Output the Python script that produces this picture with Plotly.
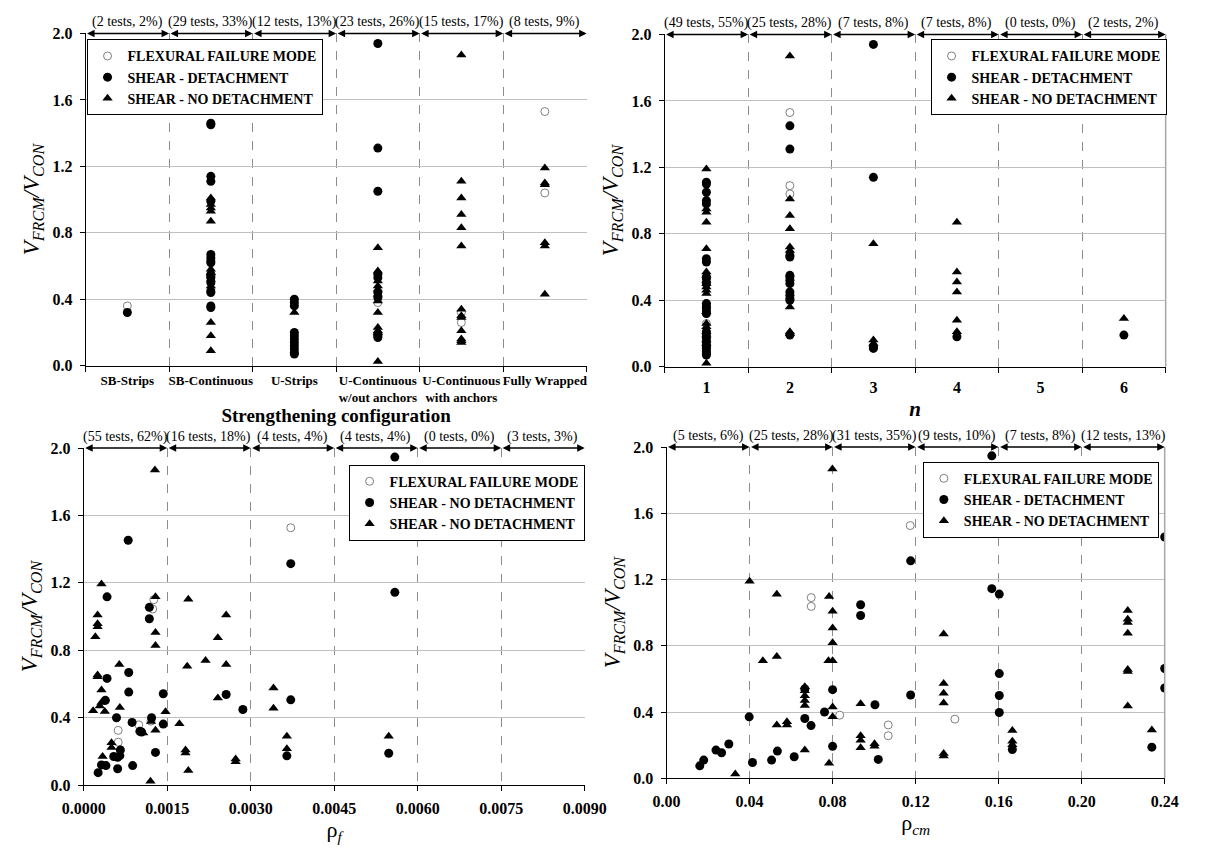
import plotly.graph_objects as go

W, H = 1205, 850
SERIF = "Liberation Serif, Times New Roman, serif"

# ---------------- DATA ----------------
# Panel 1: strengthening configuration
cfg_categories = ["SB-Strips", "SB-Continuous", "U-Strips",
                  "U-Continuous<br>w/out anchors", "U-Continuous<br>with anchors", "Fully Wrapped"]
cfg_counts = ["(2 tests, 2%)", "(29 tests, 33%)", "(12 tests, 13%)",
              "(23 tests, 26%)", "(15 tests, 17%)", "(8 tests, 9%)"]
cfg_flex = [("SB-Strips", [0.36]),
            ("U-Continuous<br>w/out anchors", [0.38]),
            ("U-Continuous<br>with anchors", [0.32, 0.26]),
            ("Fully Wrapped", [1.53, 1.04])]
cfg_det = [("SB-Strips", [0.32]),
           ("SB-Continuous", [1.46, 1.45, 1.14, 1.11, 0.99, 0.67, 0.65, 0.63, 0.62, 0.55, 0.54,
                              0.53, 0.50, 0.45, 0.44, 0.36, 0.35]),
           ("U-Strips", [0.40, 0.38, 0.36, 0.20, 0.18, 0.16, 0.14, 0.12, 0.10, 0.08, 0.07]),
           ("U-Continuous<br>w/out anchors", [1.94, 1.31, 1.05, 0.55, 0.53, 0.44, 0.41, 0.19, 0.18, 0.17])]
cfg_nodet = [("SB-Continuous", [1.01, 0.97, 0.95, 0.93, 0.87, 0.58, 0.56, 0.52, 0.48, 0.26, 0.18, 0.09]),
             ("U-Strips", [0.32]),
             ("U-Continuous<br>w/out anchors", [0.71, 0.57, 0.51, 0.48, 0.46, 0.43, 0.39, 0.32,
                                                0.23, 0.21, 0.20, 0.025]),
             ("U-Continuous<br>with anchors", [1.87, 1.11, 1.01, 0.91, 0.83, 0.72, 0.34, 0.30,
                                               0.29, 0.21, 0.16, 0.15, 0.14]),
             ("Fully Wrapped", [1.19, 1.10, 1.09, 0.74, 0.72, 0.43])]

# Panel 2: number of layers n
n_categories = ["1", "2", "3", "4", "5", "6"]
n_counts = ["(49 tests, 55%)", "(25 tests, 28%)", "(7 tests, 8%)",
            "(7 tests, 8%)", "(0 tests, 0%)", "(2 tests, 2%)"]
n_flex = [(1, [0.38, 0.36, 0.32, 0.26]), (2, [1.53, 1.09, 1.04])]
n_det = [(1, [1.11, 1.10, 1.05, 1.00, 0.98, 0.65, 0.63, 0.54, 0.53, 0.50, 0.38, 0.36, 0.35,
              0.33, 0.32, 0.21, 0.19, 0.17, 0.15, 0.13, 0.12, 0.11, 0.09, 0.08, 0.07]),
         (2, [1.45, 1.31, 0.67, 0.66, 0.55, 0.54, 0.52, 0.50, 0.45, 0.43, 0.41, 0.40, 0.19]),
         (3, [1.94, 1.14, 0.12, 0.11]),
         (4, [0.18]),
         (6, [0.19])]
n_nodet = [(1, [1.19, 0.95, 0.93, 0.87, 0.71, 0.57, 0.55, 0.52, 0.50, 0.48, 0.46, 0.44, 0.33,
                0.26, 0.24, 0.21, 0.19, 0.16, 0.14, 0.02]),
           (2, [1.87, 1.01, 0.91, 0.83, 0.72, 0.70, 0.36, 0.21, 0.20]),
           (3, [0.74, 0.16, 0.14]),
           (4, [0.87, 0.57, 0.51, 0.45, 0.28, 0.21]),
           (6, [0.29])]

# Panel 3: rho_f
rhof_ticks = [0.0, 0.0015, 0.0030, 0.0045, 0.0060, 0.0075, 0.0090]
rhof_counts = ["(55 tests, 62%)", "(16 tests, 18%)", "(4 tests, 4%)",
               "(4 tests, 4%)", "(0 tests, 0%)", "(3 tests, 3%)"]
rhof_flex_x = [0.00126, 0.00124, 0.00372, 0.00099, 0.00062, 0.00062, 0.00121]
rhof_flex_y = [1.10, 1.045, 1.527, 0.358, 0.325, 0.255, 0.38]
rhof_det_x = [0.00042, 0.00118, 0.00118, 0.00081, 0.00042, 0.00081, 0.00143, 0.00039, 0.00256,
              0.00286, 0.00059, 0.00087, 0.00122, 0.00101, 0.00104, 0.00143, 0.00066, 0.00054,
              0.00061, 0.00065, 0.00032, 0.00040, 0.00061, 0.00088, 0.00026, 0.00129, 0.00080,
              0.00372, 0.00559, 0.00559, 0.00372, 0.00365, 0.00548]
rhof_det_y = [1.117, 1.055, 0.987, 0.668, 0.633, 0.552, 0.542, 0.503, 0.538,
              0.449, 0.400, 0.372, 0.400, 0.319, 0.315, 0.362, 0.209, 0.170,
              0.165, 0.175, 0.120, 0.116, 0.097, 0.116, 0.074, 0.194, 1.453,
              1.314, 1.946, 1.144, 0.506, 0.174, 0.189]
rhof_nodet_x = [0.00032, 0.00129, 0.00188, 0.00256, 0.00025, 0.00025, 0.00025, 0.00021, 0.00129,
                0.00129, 0.00241, 0.00064, 0.00025, 0.00025, 0.00186, 0.00219, 0.00256, 0.00032,
                0.00032, 0.00029, 0.00017, 0.00038, 0.00065, 0.00241, 0.00147, 0.00121, 0.00107,
                0.00129, 0.00172, 0.00050, 0.00050, 0.00034, 0.00183, 0.00183, 0.00188, 0.00120,
                0.00273, 0.00273, 0.00128, 0.00341, 0.00341, 0.00365, 0.00365, 0.00548]
rhof_nodet_y = [1.194, 1.117, 1.103, 1.010, 1.010, 0.958, 0.939, 0.880, 0.906,
                0.828, 0.875, 0.716, 0.654, 0.643, 0.706, 0.739, 0.716, 0.565,
                0.490, 0.470, 0.441, 0.437, 0.460, 0.517, 0.435, 0.377, 0.310,
                0.325, 0.364, 0.252, 0.223, 0.170, 0.209, 0.190, 0.087, 0.023,
                0.155, 0.139, 1.870, 0.576, 0.456, 0.290, 0.216, 0.290]

# Panel 4: rho_cm
rhocm_ticks = [0.00, 0.04, 0.08, 0.12, 0.16, 0.20, 0.24]
rhocm_counts = ["(5 tests, 6%)", "(25 tests, 28%)", "(31 tests, 35%)",
                "(9 tests, 10%)", "(7 tests, 8%)", "(12 tests, 13%)"]
rhocm_flex_x = [0.0697, 0.0697, 0.0834, 0.1068, 0.1068, 0.1174, 0.1389]
rhocm_flex_y = [1.091, 1.038, 0.381, 0.322, 0.257, 1.526, 0.357]
rhocm_det_x = [0.0935, 0.0935, 0.0666, 0.0800, 0.0761, 0.1004, 0.0398, 0.0666, 0.0696, 0.0300,
               0.0238, 0.0265, 0.0179, 0.0160, 0.0414, 0.0506, 0.0534, 0.0615, 0.0800, 0.1020,
               0.1176, 0.1567, 0.1567, 0.1603, 0.1176, 0.1603, 0.1603, 0.1603, 0.1666, 0.2338,
               0.2400, 0.2400, 0.2400]
rhocm_det_y = [1.048, 0.983, 0.539, 0.535, 0.400, 0.444, 0.371, 0.361, 0.318, 0.207,
               0.170, 0.154, 0.110, 0.075, 0.095, 0.110, 0.164, 0.130, 0.193, 0.114,
               1.313, 1.947, 1.145, 1.112, 0.503, 0.632, 0.500, 0.397, 0.174, 0.188,
               1.457, 0.663, 0.545]
rhocm_nodet_x = [0.0400, 0.0531, 0.0783, 0.0800, 0.0800, 0.0800, 0.0800, 0.0780, 0.0464, 0.0531,
                 0.0666, 0.0666, 0.0666, 0.0666, 0.0666, 0.0800, 0.0800, 0.0935, 0.0531, 0.0580,
                 0.0580, 0.0935, 0.0935, 0.0935, 0.1002, 0.1002, 0.0331, 0.0666, 0.0783, 0.0799,
                 0.1335, 0.1335, 0.1335, 0.1335, 0.1335, 0.1335, 0.1666, 0.1666, 0.1666, 0.2222,
                 0.2222, 0.2222, 0.2222, 0.2222, 0.2222, 0.2222, 0.2338]
rhocm_nodet_y = [1.190, 1.111, 1.097, 1.008, 0.908, 0.819, 0.710, 0.710, 0.710, 0.736,
                 0.553, 0.529, 0.499, 0.470, 0.440, 0.430, 0.371, 0.450, 0.322, 0.341,
                 0.322, 0.257, 0.229, 0.184, 0.209, 0.193, 0.026, 0.170, 0.091, 1.868,
                 0.871, 0.573, 0.513, 0.454, 0.150, 0.134, 0.288, 0.223, 0.203, 1.013,
                 0.960, 0.940, 0.875, 0.657, 0.644, 0.436, 0.292]

# ---------------- FIGURE ----------------
def flatten(groups, as_str=False):
    xs, ys = [], []
    for cat, vals in groups:
        for v in vals:
            xs.append(str(cat) if as_str else cat)
            ys.append(v)
    return xs, ys

STYLE = {
    "flex": dict(symbol="circle", size=8, color="white", line=dict(color="#7f7f7f", width=1)),
    "det": dict(symbol="circle", size=9, color="black", line=dict(width=0)),
    "nodet": dict(symbol="triangle-up", size=9, color="black", line=dict(width=0)),
}

fig = go.Figure()

def add(x, y, kind, name, ax_id, legend):
    xa = "x" if ax_id == 1 else f"x{ax_id}"
    ya = "y" if ax_id == 1 else f"y{ax_id}"
    fig.add_trace(go.Scatter(x=x, y=y, mode="markers", name=name, marker=STYLE[kind],
                             xaxis=xa, yaxis=ya, legend=legend, showlegend=True))

LBL_FLEX = "FLEXURAL FAILURE MODE"
LBL_DET = "SHEAR - DETACHMENT"
LBL_NODET = "SHEAR - NO DETACHMENT"

x, y = flatten(cfg_flex); add(x, y, "flex", LBL_FLEX, 1, "legend")
x, y = flatten(cfg_det); add(x, y, "det", LBL_DET, 1, "legend")
x, y = flatten(cfg_nodet); add(x, y, "nodet", LBL_NODET, 1, "legend")

x, y = flatten(n_flex, True); add(x, y, "flex", LBL_FLEX, 2, "legend2")
x, y = flatten(n_det, True); add(x, y, "det", LBL_DET, 2, "legend2")
x, y = flatten(n_nodet, True); add(x, y, "nodet", LBL_NODET, 2, "legend2")

add(rhof_flex_x, rhof_flex_y, "flex", LBL_FLEX, 3, "legend3")
add(rhof_det_x, rhof_det_y, "det", LBL_NODET, 3, "legend3")
add(rhof_nodet_x, rhof_nodet_y, "nodet", LBL_NODET, 3, "legend3")

add(rhocm_flex_x, rhocm_flex_y, "flex", LBL_FLEX, 4, "legend4")
add(rhocm_det_x, rhocm_det_y, "det", LBL_DET, 4, "legend4")
add(rhocm_nodet_x, rhocm_nodet_y, "nodet", LBL_NODET, 4, "legend4")

# panel geometry in pixels: (left, right, top, bottom)
PANELS = {1: (66, 586, 26, 365), 2: (667, 1187, 27, 366),
          3: (64, 584, 449, 793), 4: (669, 1186, 448, 786)}

def dom(p):
    l, r, t, b = PANELS[p]
    return [l / W, r / W], [1 - b / H, 1 - t / H]

TICKFONT = dict(family=SERIF, size=16, color="black", weight="bold")

def yaxis_cfg(p):
    _, yd = dom(p)
    return dict(domain=yd, range=[0, 2.0], dtick=0.4, tick0=0, tickformat=".1f",
                showline=True, linecolor="black", linewidth=1, ticks="outside", ticklen=5,
                tickcolor="black", showgrid=True, gridcolor="#c0c0c0", gridwidth=1,
                zeroline=False, tickfont=TICKFONT, ticklabelstandoff=4,
                title=dict(text="<i>V<sub>FRCM</sub>/V<sub>CON</sub></i>",
                           font=dict(family=SERIF, size=23, color="black"), standoff=6),
                anchor="x" if p == 1 else f"x{p}")

def xaxis_common(p):
    xd, _ = dom(p)
    return dict(domain=xd, showline=True, linecolor="black", linewidth=1, ticks="outside",
                ticklen=5, tickcolor="black", showgrid=True, gridcolor="#8c8c8c",
                griddash="dash", gridwidth=1, zeroline=False, tickangle=0,
                anchor="y" if p == 1 else f"y{p}")

xa1 = xaxis_common(1)
xa1.update(type="category", categoryorder="array", categoryarray=cfg_categories,
           range=[-0.5, 5.5], tickson="boundaries", ticklabelstandoff=3,
           tickfont=dict(family=SERIF, size=13, color="black", weight="bold"),
           title=dict(text="<b>Strengthening configuration</b>",
                      font=dict(family=SERIF, size=19, color="black"), standoff=4))
xa2 = xaxis_common(2)
xa2.update(type="category", categoryorder="array", categoryarray=n_categories,
           range=[-0.5, 5.5], tickson="boundaries", tickfont=TICKFONT, ticklabelstandoff=6,
           title=dict(text="<b><i>n</i></b>", font=dict(family=SERIF, size=21, color="black"),
                      standoff=6))
xa3 = xaxis_common(3)
xa3.update(range=[rhof_ticks[0], rhof_ticks[-1]], tickvals=rhof_ticks, tickformat=".4f",
           tickfont=TICKFONT, ticklabelstandoff=4,
           title=dict(text="ρ<sub><i>f</i></sub>", font=dict(family=SERIF, size=22, color="black"),
                      standoff=4))
xa4 = xaxis_common(4)
xa4.update(range=[rhocm_ticks[0], rhocm_ticks[-1]], tickvals=rhocm_ticks, tickformat=".2f",
           tickfont=TICKFONT, ticklabelstandoff=4,
           title=dict(text="ρ<sub><i>cm</i></sub>", font=dict(family=SERIF, size=22, color="black"),
                      standoff=4))

annotations = []

def add_segments(p, bounds, labels):
    xr = "x" if p == 1 else f"x{p}"
    yr = "y" if p == 1 else f"y{p}"
    for i, lab in enumerate(labels):
        b0, b1 = bounds[i], bounds[i + 1]
        annotations.append(dict(x=b1, y=2.0, ax=b0, ay=2.0, xref=xr, yref=yr, axref=xr, ayref=yr,
                                text="", showarrow=True, arrowhead=2, startarrowhead=2,
                                arrowside="end+start", arrowsize=1, startarrowsize=1,
                                arrowwidth=1.5, arrowcolor="black", standoff=0, startstandoff=0))
        annotations.append(dict(x=(b0 + b1) / 2, y=2.0, xref=xr, yref=yr, text=lab,
                                showarrow=False, yanchor="bottom", yshift=1,
                                font=dict(family=SERIF, size=14, color="black")))

add_segments(1, [i - 0.5 for i in range(len(cfg_categories) + 1)], cfg_counts)
add_segments(2, [i - 0.5 for i in range(len(n_categories) + 1)], n_counts)
add_segments(3, rhof_ticks, rhof_counts)
add_segments(4, rhocm_ticks, rhocm_counts)

LEGFONT = dict(family=SERIF, size=14, color="black", weight="bold")

def legend_cfg(px_left, px_top):
    return dict(x=px_left / W, y=1 - px_top / H, xanchor="left", yanchor="top",
                bgcolor="white", bordercolor="black", borderwidth=1, font=LEGFONT,
                itemwidth=30, tracegroupgap=0)

shapes = []
for p in (2, 4):
    shapes.append(dict(type="line", xref=f"x{p} domain", yref=f"y{p} domain",
                       x0=1, x1=1, y0=0, y1=1, line=dict(color="#a6a6a6", width=1.5)))

fig.update_layout(
    width=W, height=H, autosize=False,
    margin=dict(l=0, r=0, t=0, b=0),
    paper_bgcolor="white", plot_bgcolor="white",
    font=dict(family=SERIF, color="black"),
    xaxis=xa1, yaxis=yaxis_cfg(1),
    xaxis2=xa2, yaxis2=yaxis_cfg(2),
    xaxis3=xa3, yaxis3=yaxis_cfg(3),
    xaxis4=xa4, yaxis4=yaxis_cfg(4),
    legend=legend_cfg(67, 32),
    legend2=legend_cfg(943, 32),
    legend3=legend_cfg(339, 466),
    legend4=legend_cfg(935, 463),
    annotations=annotations,
    shapes=shapes,
)

fig.write_html("out.html")
